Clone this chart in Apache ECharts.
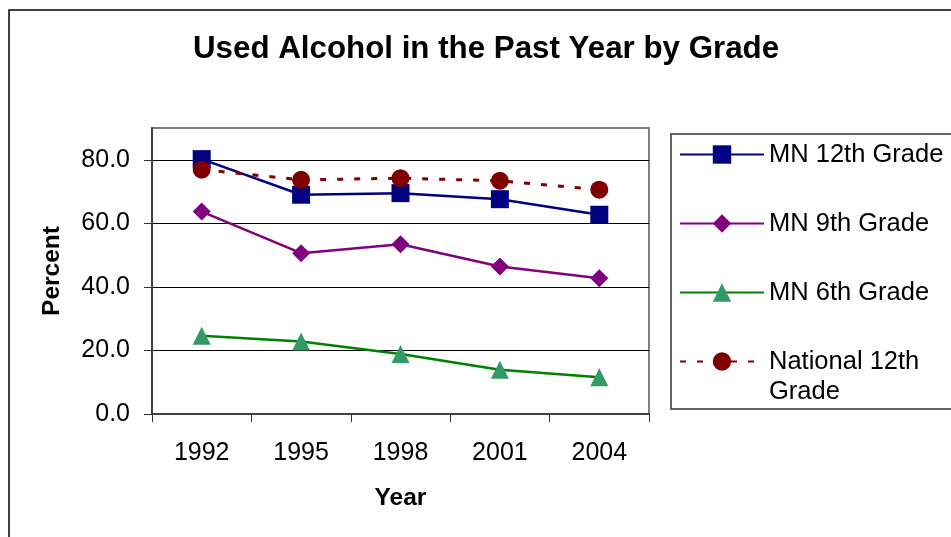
<!DOCTYPE html>
<html>
<head>
<meta charset="utf-8">
<script src="https://cdn.jsdelivr.net/npm/echarts@6/dist/echarts.min.js"></script>
<style>html,body{margin:0;padding:0;background:#fff}#c{width:951px;height:537px}</style>
</head>
<body>
<div id="c"></div>
<script>
var years = ['1992', '1995', '1998', '2001', '2004'];
var mn12 = [80.2, 69.0, 69.5, 67.6, 62.7];
var mn9 = [63.7, 50.6, 53.4, 46.4, 42.7];
var mn6 = [24.6, 22.8, 18.9, 13.9, 11.6];
var nat12 = [76.9, 73.7, 74.2, 73.4, 70.6];
var yTicks = [0, 20, 40, 60, 80];
var seriesNames = ['MN 12th Grade', 'MN 9th Grade', 'MN 6th Grade', 'National 12th Grade'];

var FONT = '"Liberation Sans", Arial, sans-serif';
var chart = echarts.init(document.getElementById('c'), null, {renderer: 'canvas'});

var legendCommon = {
  orient: 'vertical',
  left: 679,
  padding: 0,
  itemWidth: 84,
  itemHeight: 23,
  itemGap: 39,
  textStyle: {fontFamily: FONT, fontSize: 25.5, color: '#000', lineHeight: 30},
  selectedMode: false
};

chart.setOption({
  animation: false,
  backgroundColor: '#fff',
  title: {
    text: 'Used Alcohol in the Past Year by Grade',
    left: 193,
    top: 34,
    padding: 0,
    textStyle: {fontFamily: FONT, fontSize: 31.3, fontWeight: 'bold', color: '#000'}
  },
  graphic: [
    {type: 'rect', shape: {x: 9, y: 10, width: 1100, height: 700}, style: {fill: 'none', stroke: '#000', lineWidth: 1.5}, z: 100},
    {type: 'rect', shape: {x: 671, y: 134, width: 400, height: 275}, style: {fill: 'none', stroke: '#333', lineWidth: 1.5}, z: 100}
  ],
  legend: [
    Object.assign({}, legendCommon, {top: 139.5, data: seriesNames.slice(0, 3)}),
    Object.assign({}, legendCommon, {
      top: 316.5,
      data: [seriesNames[3]],
      formatter: function () { return '\nNational 12th\nGrade'; }
    })
  ],
  grid: {
    left: 152, top: 128, right: 302, bottom: 123,
    show: true, borderColor: '#808080', borderWidth: 2, backgroundColor: 'transparent'
  },
  xAxis: {
    type: 'category',
    data: years,
    boundaryGap: true,
    name: 'Year',
    nameLocation: 'middle',
    nameGap: 72,
    nameTextStyle: {fontFamily: FONT, fontSize: 24.5, fontWeight: 'bold', color: '#000'},
    axisLine: {lineStyle: {color: '#404040', width: 2}},
    axisTick: {show: true, length: 8, alignWithLabel: false, lineStyle: {color: '#333', width: 1}},
    axisLabel: {fontFamily: FONT, fontSize: 25, color: '#000', margin: 27}
  },
  yAxis: {
    type: 'value',
    min: 0,
    max: 90,
    interval: 20,
    name: 'Percent',
    nameLocation: 'middle',
    nameGap: 87,
    nameRotate: 90,
    nameTextStyle: {fontFamily: FONT, fontSize: 24.5, fontWeight: 'bold', color: '#000'},
    axisLine: {show: true, lineStyle: {color: '#404040', width: 2}},
    axisTick: {show: true, length: 8, customValues: yTicks, lineStyle: {color: '#333', width: 1}},
    axisLabel: {
      fontFamily: FONT, fontSize: 25, color: '#000', margin: 22,
      customValues: yTicks,
      formatter: function (v) { return v.toFixed(1); }
    },
    splitLine: {show: true, lineStyle: {color: '#000', width: 1}}
  },
  series: [
    {
      name: seriesNames[0], type: 'line', data: mn12,
      symbol: 'rect', symbolSize: 18,
      lineStyle: {color: '#000080', width: 2.5},
      itemStyle: {color: '#000080'}
    },
    {
      name: seriesNames[1], type: 'line', data: mn9,
      symbol: 'diamond', symbolSize: 18,
      lineStyle: {color: '#800080', width: 2.5},
      itemStyle: {color: '#800080'}
    },
    {
      name: seriesNames[2], type: 'line', data: mn6,
      symbol: 'triangle', symbolSize: 18,
      lineStyle: {color: '#008000', width: 2.5},
      itemStyle: {color: '#339966'}
    },
    {
      name: seriesNames[3], type: 'line', data: nat12,
      symbol: 'circle', symbolSize: 18,
      lineStyle: {color: '#800000', width: 3, type: [6, 11]},
      itemStyle: {color: '#800000'}
    }
  ]
});
</script>
</body>
</html>
